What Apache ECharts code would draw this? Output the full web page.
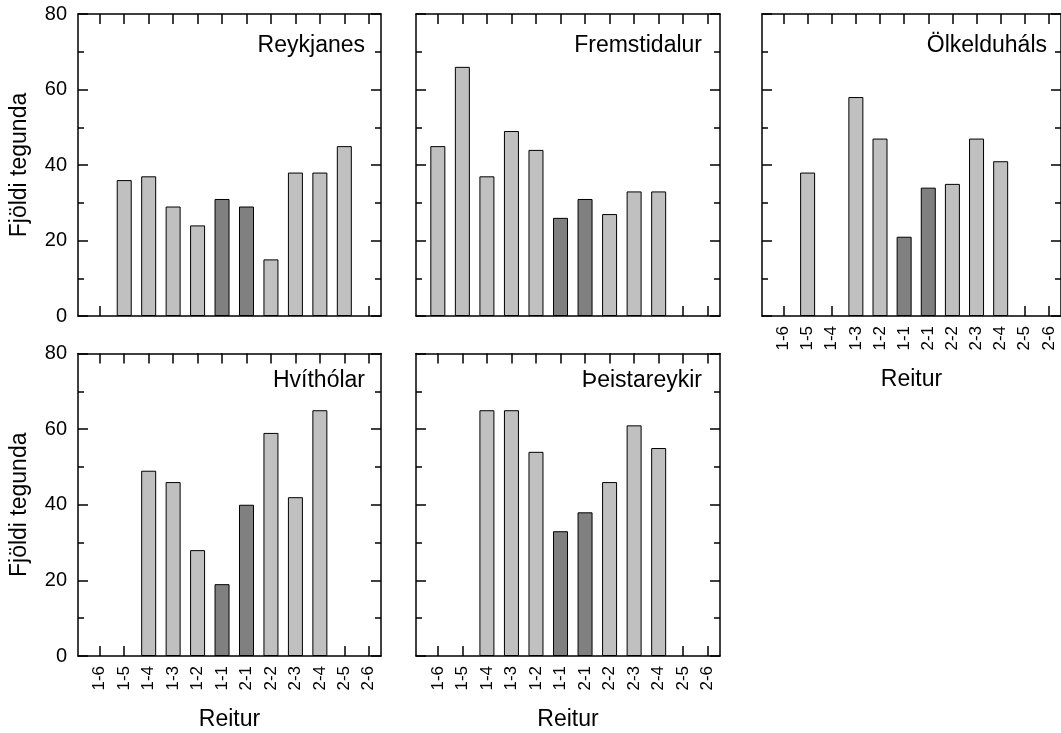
<!DOCTYPE html>
<html>
<head>
<meta charset="utf-8">
<script src="https://cdn.jsdelivr.net/npm/echarts@6/dist/echarts.min.js"></script>
<style>
  html, body { margin: 0; padding: 0; background: #fff; }
  #chart { width: 1061px; height: 733px; }
</style>
</head>
<body>
<div id="chart"></div>
<script>
// Plot categories (reitir) along the transect
const categories = ['1-6', '1-5', '1-4', '1-3', '1-2', '1-1', '2-1', '2-2', '2-3', '2-4', '2-5', '2-6'];
// Central plots drawn in the darker shade
const darkCategories = ['1-1', '2-1'];

// Species counts per plot (null = no plot)
const reykjanes    = [null, 36, 37, 29, 24, 31, 29, 15, 38, 38, 45, null];
const fremstidalur = [45, 66, 37, 49, 44, 26, 31, 27, 33, 33, null, null];
const olkelduhals  = [null, 38, null, 58, 47, 21, 34, 35, 47, 41, null, null];
const hvitholar    = [null, null, 49, 46, 28, 19, 40, 59, 42, 65, null, null];
const theistareykir = [null, null, 65, 65, 54, 33, 38, 46, 61, 55, null, null];

const siteNames = ['Reykjanes', 'Fremstidalur', 'Ölkelduháls', 'Hvíthólar', 'Þeistareykir'];
const siteValues = [reykjanes, fremstidalur, olkelduhals, hvitholar, theistareykir];

// Value axis settings
const yMin = 0, yMax = 80, yStep = 20;
const yTitle = 'Fjöldi tegunda';
const xTitle = 'Reitur';

// Panel layout
const layout = [
  { left: 78,  top: 14,    width: 303, height: 302,   yLabels: true,  xLabels: false, titleRight: 696, titleTop: 34 },
  { left: 416, top: 14,    width: 304, height: 302,   yLabels: false, xLabels: false, titleRight: 359, titleTop: 34 },
  { left: 762, top: 14,    width: 303, height: 302,   yLabels: false, xLabels: true,  titleRight: 14,  titleTop: 34 },
  { left: 78,  top: 353.5, width: 303, height: 302.5, yLabels: true,  xLabels: true,  titleRight: 696, titleTop: 369 },
  { left: 416, top: 353.5, width: 304, height: 302.5, yLabels: false, xLabels: true,  titleRight: 359, titleTop: 369 }
];

const FONT = "'Liberation Sans', Arial, sans-serif";
const tickIdx = categories.map((_, k) => k);
const lineStyle = { color: '#000', width: 1.5 };

const grids = [], xAxes = [], yAxes = [], series = [], titles = [];

layout.forEach((p, i) => {
  grids.push({ left: p.left, top: p.top, width: p.width, height: p.height, containLabel: false });

  const xBase = {
    type: 'value', gridIndex: i, min: -0.89, max: 11.5,
    axisLine: { show: true, onZero: false, lineStyle },
    axisTick: { show: true, inside: true, length: 10, customValues: tickIdx, lineStyle },
    splitLine: { show: false }
  };
  xAxes.push(Object.assign({}, xBase, {
    position: 'bottom',
    axisLabel: {
      show: p.xLabels, customValues: tickIdx, rotate: 90, margin: 10,
      fontSize: 17, color: '#000', fontFamily: FONT,
      formatter: v => categories[Math.round(v)]
    },
    name: p.xLabels ? xTitle : '', nameLocation: 'middle', nameGap: 52,
    nameTextStyle: { fontSize: 23, color: '#000', fontFamily: FONT }
  }));
  xAxes.push(Object.assign({}, xBase, {
    position: 'top',
    axisLabel: { show: false, customValues: tickIdx }
  }));

  const yBase = {
    type: 'value', gridIndex: i, min: yMin, max: yMax, interval: yStep,
    axisLine: { show: true, onZero: false, lineStyle },
    axisTick: { show: true, inside: true, length: 10, lineStyle },
    minorTick: { show: true, splitNumber: 2, length: 6, lineStyle },
    splitLine: { show: false },
    minorSplitLine: { show: false }
  };
  yAxes.push(Object.assign({}, yBase, {
    position: 'left',
    axisLabel: { show: p.yLabels, fontSize: 20, margin: 11, color: '#000', fontFamily: FONT },
    name: p.yLabels ? yTitle : '', nameLocation: 'middle', nameGap: 47,
    nameTextStyle: { fontSize: 23, color: '#000', fontFamily: FONT }
  }));
  yAxes.push(Object.assign({}, yBase, {
    position: 'right',
    axisLabel: { show: false }
  }));

  const data = [];
  siteValues[i].forEach((v, k) => { if (v != null) data.push([k, v]); });
  series.push({
    type: 'bar', name: siteNames[i],
    xAxisIndex: 2 * i, yAxisIndex: 2 * i,
    barWidth: 15,
    data,
    itemStyle: {
      borderColor: '#000', borderWidth: 1,
      color: params => darkCategories.includes(categories[params.value[0]]) ? '#808080' : '#c0c0c0'
    },
    emphasis: { disabled: true }
  });

  titles.push({
    text: siteNames[i], right: p.titleRight, top: p.titleTop, padding: 0,
    textStyle: { fontSize: 23, fontWeight: 'normal', color: '#000', fontFamily: FONT }
  });
});

const chart = echarts.init(document.getElementById('chart'));
chart.setOption({
  animation: false,
  backgroundColor: '#fff',
  title: titles,
  grid: grids,
  xAxis: xAxes,
  yAxis: yAxes,
  series
});
</script>
</body>
</html>
